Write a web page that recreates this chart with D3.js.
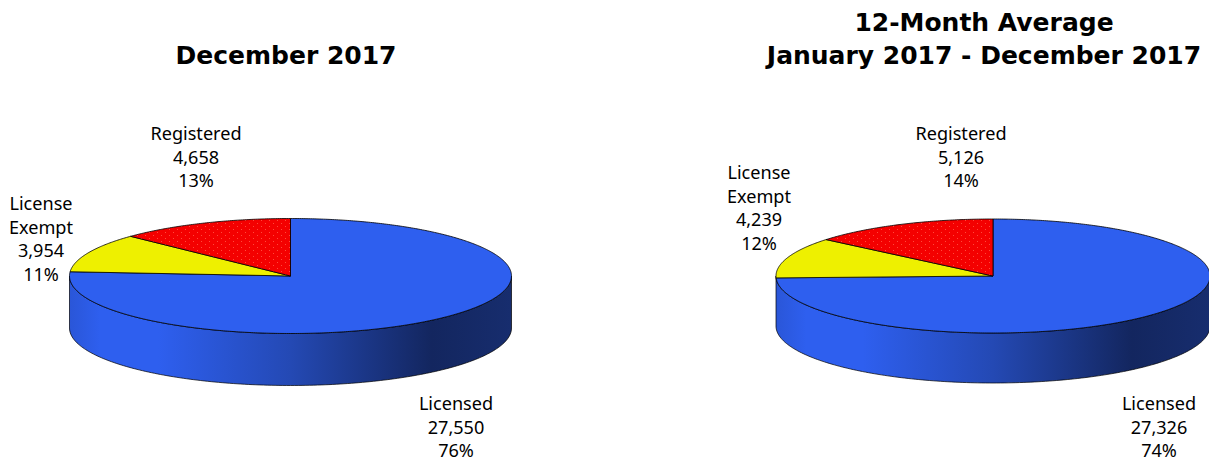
<!DOCTYPE html>
<html><head><meta charset="utf-8">
<script src="https://cdn.jsdelivr.net/npm/d3@7/dist/d3.min.js"></script>
<style>html,body{margin:0;padding:0;background:#fff;overflow:hidden}svg{display:block}
text{fill:#000}
.t{font-family:"DejaVu Sans";font-weight:bold;font-size:25px}
.l{font-family:"Noto Sans";font-size:18.1px}</style></head><body>
<svg id="c" width="1209" height="459"></svg>
<script>
const categories=["Licensed","License Exempt","Registered"];
const colors=["#2e5fef","#eef000","#f40000"];
const decemberValues=[27550,3954,4658];
const decemberPercents=["76%","11%","13%"];
const averageValues=[27326,4239,5126];
const averagePercents=["74%","12%","14%"];
const decemberTitle=["December 2017"];
const averageTitle=["12-Month Average","January 2017 - December 2017"];

const svg=d3.select("#c"),defs=svg.append("defs");
const fmt=d3.format(",");
const g=defs.append("linearGradient").attr("id","wall");
[[0,"#2a56d8"],[0.07,"#2e5fef"],[0.2,"#2e5fef"],[0.5,"#2449b4"],[0.82,"#13265f"],[1,"#172d6e"]]
 .forEach(s=>g.append("stop").attr("offset",s[0]).attr("stop-color",s[1]));
const p=defs.append("pattern").attr("id","dots").attr("width",8).attr("height",6).attr("patternUnits","userSpaceOnUse");
p.append("rect").attr("width",8).attr("height",6).attr("fill","#f40000");
p.append("rect").attr("x",1).attr("y",1).attr("width",1).attr("height",1).attr("fill","#ff4a3c");
p.append("rect").attr("x",5).attr("y",4).attr("width",1).attr("height",1).attr("fill","#ff4a3c");

function pie3d(o){
  const root=svg.append("g");
  const x=d3.scaleLinear().domain([-1,1]).range([o.cx-o.rx,o.cx+o.rx]);
  const y=d3.scaleLinear().domain([-1,1]).range([o.cy-o.ry,o.cy+o.ry]);
  const arcs=d3.pie().sort(null)(o.values);
  const front=d3.range(90,270.5,1).map(d=>d*Math.PI/180);
  const wall=d3.area().x(a=>x(Math.sin(a))).y0(a=>y(-Math.cos(a))).y1(a=>y(-Math.cos(a))+o.depth);
  root.append("path").attr("d",wall(front)).attr("fill","url(#wall)").attr("stroke","#000").attr("stroke-width",0.7);
  const sector=d=>{
    const pts=d3.range(d.startAngle,d.endAngle,0.01).concat(d.endAngle).map(a=>[x(Math.sin(a)),y(-Math.cos(a))]);
    return d3.line()([[x(0),y(0)],...pts])+"Z";
  };
  root.selectAll("path.s").data(arcs).join("path").attr("class","s")
    .attr("d",sector)
    .attr("fill",(d,i)=>i===2?"url(#dots)":colors[i])
    .attr("stroke","#000").attr("stroke-width",0.8);
  o.labels.forEach((l,i)=>{
    const lines=[...l.name,fmt(o.values[i]),o.percents[i]];
    const t=root.append("text").attr("class","l").attr("text-anchor","middle");
    lines.forEach((s,j)=>t.append("tspan").attr("x",l.x).attr("y",l.y+j*23.5).text(s));
  });
  const tt=root.append("text").attr("class","t").attr("text-anchor","middle");
  o.title.forEach((s,j)=>tt.append("tspan").attr("x",o.tx).attr("y",o.ty+j*33).text(s));
}
pie3d({cx:290.5,cy:276,rx:221,ry:57.5,depth:52,values:decemberValues,percents:decemberPercents,title:decemberTitle,tx:286,ty:64,
  labels:[{name:["Licensed"],x:456,y:410},{name:["License","Exempt"],x:41,y:210},{name:["Registered"],x:196,y:140}]});
pie3d({cx:993,cy:276,rx:217,ry:57,depth:50,values:averageValues,percents:averagePercents,title:averageTitle,tx:984,ty:31,
  labels:[{name:["Licensed"],x:1159,y:410},{name:["License","Exempt"],x:759,y:179},{name:["Registered"],x:961,y:140}]});
</script></body></html>
